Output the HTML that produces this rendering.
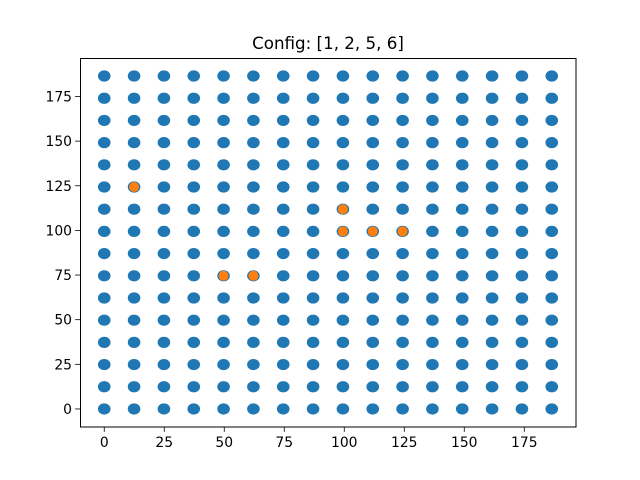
<!DOCTYPE html>
<html><head><meta charset="utf-8"><style>body{margin:0;background:#fff}svg{display:block;font-family:"DejaVu Sans","Liberation Sans",sans-serif}</style></head>
<body>
<svg id="chart" width="640" height="480" viewBox="0 0 640 480" xmlns="http://www.w3.org/2000/svg">
<rect width="640" height="480" fill="#fff"/>
<text x="328" y="49" font-size="16.7" text-anchor="middle">Config: [1, 2, 5, 6]</text>
<g id="marks"></g>
<rect x="80.5" y="58.5" width="495.5" height="368.5" fill="none" stroke="#000" stroke-width="1"/>
<g id="axes"></g>
</svg>
<script>
const gridCount = 16;
const gridStep = 12.43;
const highlightCols = [1, 4, 5, 8, 8, 9, 10];
const highlightRows = [10, 6, 6, 9, 8, 8, 8];
const xTicks = [0, 25, 50, 75, 100, 125, 150, 175];
const yTicks = [0, 25, 50, 75, 100, 125, 150, 175];

const NS = 'http://www.w3.org/2000/svg';
const L = 80, R = 576, T = 58, B = 427;
const dMax = (gridCount - 1) * gridStep, pad = 10.1;
const x = v => L + (v + pad) / (dMax + 2 * pad) * (R - L);
const y = v => B - (v + pad) / (dMax + 2 * pad) * (B - T);
const marks = document.getElementById('marks'), axes = document.getElementById('axes');
function mk(tag, attrs, parent) { const e = document.createElementNS(NS, tag); for (const k in attrs) e.setAttribute(k, attrs[k]); parent.appendChild(e); return e; }

for (let i = 0; i < gridCount; i++) for (let j = 0; j < gridCount; j++) {
  const c = mk('ellipse', {cx: x(i * gridStep), cy: y(j * gridStep), rx: 6.3, ry: 5.6, fill: '#1f77b4'}, marks);
  
  
}
for (let k = 0; k < highlightCols.length; k++) {
  const c = mk('circle', {cx: x(highlightCols[k] * gridStep), cy: y(highlightRows[k] * gridStep), r: 5, fill: '#ff7f0e'}, marks);
  
  
}
xTicks.forEach(t => {
  const px = x(t);
  const l = mk('line', {x1: px, x2: px, y1: B, y2: B + 4.9, stroke: '#000', 'stroke-width': 0.8}, axes);
  
  
  const tx = mk('text', {x: px, y: B + 20, 'font-size': 13.9, 'text-anchor': 'middle'}, axes);
  tx.textContent = t;
  
  
});
yTicks.forEach(t => {
  const py = y(t);
  const l = mk('line', {x1: L - 4.9, x2: L, y1: py, y2: py, stroke: '#000', 'stroke-width': 0.8}, axes);
  
  
  const tx = mk('text', {x: L - 8, y: py + 5, 'font-size': 13.9, 'text-anchor': 'end'}, axes);
  tx.textContent = t;
  
  
});
</script>
</body></html>
